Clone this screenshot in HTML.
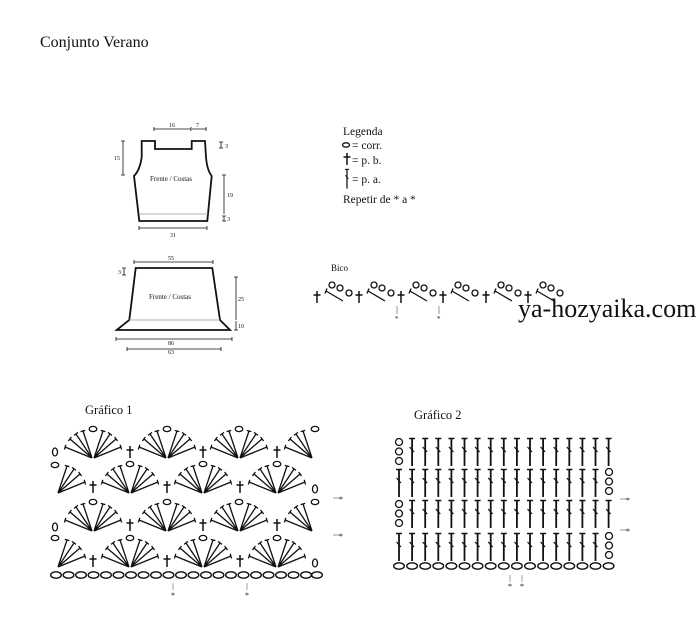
<!DOCTYPE html>
<html><head><meta charset="utf-8"><style>
body{margin:0;background:#fff}
svg{display:block}
text{font-family:"Liberation Serif",serif;fill:#111}
</style></head><body>
<svg width="700" height="620" viewBox="0 0 700 620" xmlns="http://www.w3.org/2000/svg">
<defs>
<g id="lh" stroke="#111" stroke-width="1.3" fill="none">
<path d="M0 0L-27 -11M0 0L-22 -19M0 0L-16 -24M0 0L-9 -27"/>
<path d="M-27.6 -8.5L-26.2 -13.2M-23.6 -17L-20.6 -21M-18 -22.6L-14 -25.6M-11.4 -26.4L-6.8 -27.6"/>
</g>
<g id="rh"><use href="#lh" transform="scale(-1,1)"/></g>
<g id="fan"><use href="#lh" transform="translate(-1,0)"/><use href="#rh" transform="translate(1,0)"/><ellipse cx="0" cy="-29" rx="3.8" ry="2.6" fill="none" stroke="#111" stroke-width="1.3"/></g>
<g id="pb" stroke="#111" stroke-width="1.5"><path d="M0 -12V0M-3.5 -8H3.5"/></g>
<g id="dc" stroke="#111" fill="none"><path d="M0 0V28" stroke-width="1.8"/><path d="M-3 0.5H3" stroke-width="1.5"/><path d="M-2.5 9L2 14" stroke-width="1.2"/></g>
<ellipse id="ch" cx="0" cy="0" rx="5.3" ry="3.2" fill="none" stroke="#111" stroke-width="1.4"/>
<g id="c3" fill="none" stroke="#111" stroke-width="1.3"><circle cx="0" cy="4" r="3.5"/><circle cx="0" cy="13.5" r="3.5"/><circle cx="0" cy="23" r="3.5"/></g>
<g id="bico"><use href="#pb" transform="translate(0,303)"/><g fill="none" stroke="#111" stroke-width="1.3"><path d="M9 291L26 301M8 293.5L10 288.5"/><circle cx="15" cy="285" r="3"/><circle cx="23" cy="288" r="3"/><circle cx="32" cy="293" r="3"/></g></g>
<g id="dcrow"><use href="#dc" x="412.1"/><use href="#dc" x="425.2"/><use href="#dc" x="438.3"/><use href="#dc" x="451.4"/><use href="#dc" x="464.5"/><use href="#dc" x="477.6"/><use href="#dc" x="490.7"/><use href="#dc" x="503.8"/><use href="#dc" x="516.9"/><use href="#dc" x="530"/><use href="#dc" x="543.1"/><use href="#dc" x="556.2"/><use href="#dc" x="569.3"/><use href="#dc" x="582.4"/><use href="#dc" x="595.5"/></g>
</defs>

<text x="40" y="47" font-size="16">Conjunto Verano</text>

<!-- top piece -->
<g stroke="#111" fill="none">
<path d="M141.7 141H155V149H191.7V141H205L206 157Q207 170 211.7 176L207.3 221H139.3L134 176Q140 170 141.7 157Z" stroke-width="1.8"/>
<path d="M140 214H208" stroke="#999" stroke-width="0.8"/>
<g stroke-width="0.8"><path d="M154 129H191M154 127V131M191 127V131M192 129H206M206 127V131"/>
<path d="M123 141V175M121 141H125M121 175H125"/>
<path d="M221 142V148M219 142H223M219 148H223"/>
<path d="M224 175V214M222 175H226M224 216V221M222 216H226M222 221H226"/>
<path d="M139 228H207M139 226V230M207 226V230"/></g>
<path d="M135.7 268H212.3L220 320L230 330H116.7L129.3 320Z" stroke-width="1.8"/>
<path d="M129 320H220" stroke="#999" stroke-width="0.8"/>
<g stroke-width="0.8"><path d="M134 262H213M134 260V264M213 260V264"/>
<path d="M124 268V275M122 268H126M122 275H126"/>
<path d="M236 277V320M234 277H238M236 321V330M234 330H238"/>
<path d="M116 339H232M116 337V341M232 337V341"/>
<path d="M127 349H221M127 347V351M221 347V351"/></g>
</g>
<g font-size="6">
<text x="169" y="127">16</text><text x="196" y="127">7</text>
<text x="114" y="160">15</text><text x="225" y="148">3</text>
<text x="227" y="197">19</text><text x="227" y="221">3</text>
<text x="170" y="237">31</text>
<text x="168" y="260">55</text><text x="118" y="274">3</text>
<text x="238" y="301">25</text><text x="238" y="328">10</text>
<text x="168" y="345">86</text><text x="168" y="354">63</text>
</g>
<text x="150" y="181" font-size="7">Frente / Costas</text>
<text x="149" y="299" font-size="7">Frente / Costas</text>

<!-- legend -->
<g font-size="11.5">
<text x="343" y="135">Legenda</text>
<text x="352" y="149">= corr.</text>
<text x="352" y="164">= p. b.</text>
<text x="352" y="183">= p. a.</text>
<text x="343" y="203">Repetir de * a *</text>
</g>
<ellipse cx="346" cy="145" rx="3.5" ry="2.2" fill="none" stroke="#111" stroke-width="1.3"/>
<use href="#pb" transform="translate(347,165)"/>
<use href="#dc" transform="translate(347,169) scale(0.7)"/>

<!-- bico -->
<text x="331" y="271" font-size="9">Bico</text>
<use href="#bico" transform="translate(317,0)"/>
<use href="#bico" transform="translate(359,0)"/>
<use href="#bico" transform="translate(401,0)"/>
<use href="#bico" transform="translate(443,0)"/>
<use href="#bico" transform="translate(486,0)"/>
<use href="#bico" transform="translate(528,0)"/>
<g stroke="#666" stroke-width="0.7"><path d="M397 306V314M439 306V314"/></g>
<text x="395" y="321" font-size="7">*</text><text x="437" y="321" font-size="7">*</text>
<text x="518" y="317" font-size="26" fill="#222">ya-hozyaika.com</text>

<!-- grafico 1 -->
<text x="85" y="414" font-size="12.5">Gráfico 1</text>
<use href="#fan" transform="translate(93,458)"/><use href="#fan" transform="translate(167,458)"/><use href="#fan" transform="translate(239,458)"/><use href="#lh" transform="translate(312,458)"/>
<ellipse cx="315" cy="429" rx="3.8" ry="2.6" fill="none" stroke="#111" stroke-width="1.3"/>
<use href="#pb" transform="translate(130,458)"/><use href="#pb" transform="translate(203,458)"/><use href="#pb" transform="translate(277,458)"/>
<use href="#fan" transform="translate(130,493)"/><use href="#fan" transform="translate(203,493)"/><use href="#fan" transform="translate(277,493)"/><use href="#rh" transform="translate(58,493)"/>
<use href="#pb" transform="translate(93,493)"/><use href="#pb" transform="translate(167,493)"/><use href="#pb" transform="translate(240,493)"/>
<use href="#fan" transform="translate(93,531)"/><use href="#fan" transform="translate(167,531)"/><use href="#fan" transform="translate(239,531)"/><use href="#lh" transform="translate(312,531)"/>
<ellipse cx="315" cy="502" rx="3.8" ry="2.6" fill="none" stroke="#111" stroke-width="1.3"/>
<use href="#pb" transform="translate(130,531)"/><use href="#pb" transform="translate(203,531)"/><use href="#pb" transform="translate(277,531)"/>
<use href="#fan" transform="translate(130,567)"/><use href="#fan" transform="translate(203,567)"/><use href="#fan" transform="translate(277,567)"/><use href="#rh" transform="translate(58,567)"/>
<use href="#pb" transform="translate(93,567)"/><use href="#pb" transform="translate(167,567)"/><use href="#pb" transform="translate(240,567)"/>
<g fill="none" stroke="#111" stroke-width="1.3">
<ellipse cx="55" cy="452" rx="2.5" ry="4"/><ellipse cx="55" cy="465" rx="3.8" ry="2.6"/>
<ellipse cx="315" cy="489" rx="2.5" ry="4"/>
<ellipse cx="55" cy="527" rx="2.5" ry="4"/><ellipse cx="55" cy="538" rx="3.8" ry="2.6"/>
<ellipse cx="315" cy="563" rx="2.5" ry="4"/>
</g>
<g>
<use href="#ch" x="56" y="575"/><use href="#ch" x="68.5" y="575"/><use href="#ch" x="81" y="575"/><use href="#ch" x="93.5" y="575"/><use href="#ch" x="106" y="575"/><use href="#ch" x="118.5" y="575"/><use href="#ch" x="131" y="575"/><use href="#ch" x="143.5" y="575"/><use href="#ch" x="156" y="575"/><use href="#ch" x="168.5" y="575"/><use href="#ch" x="181" y="575"/><use href="#ch" x="193.5" y="575"/><use href="#ch" x="206" y="575"/><use href="#ch" x="218.5" y="575"/><use href="#ch" x="231" y="575"/><use href="#ch" x="243.5" y="575"/><use href="#ch" x="256" y="575"/><use href="#ch" x="268.5" y="575"/><use href="#ch" x="281" y="575"/><use href="#ch" x="293.5" y="575"/><use href="#ch" x="306" y="575"/><use href="#ch" x="317" y="575"/>
</g>
<g stroke="#777" stroke-width="0.7"><path d="M333 498H340M333 535H340M173 583V590M247 583V590"/></g>
<g font-size="8"><text x="339" y="502">*</text><text x="339" y="539">*</text><text x="171" y="598">*</text><text x="245" y="598">*</text></g>

<!-- grafico 2 -->
<text x="414" y="419" font-size="12.5">Gráfico 2</text>
<use href="#c3" transform="translate(399,438)"/>
<use href="#c3" transform="translate(609,468)"/>
<use href="#c3" transform="translate(399,500)"/>
<use href="#c3" transform="translate(609,532)"/>
<use href="#dcrow" y="438"/><use href="#dc" x="608.6" y="438"/>
<use href="#dcrow" y="469"/><use href="#dc" x="399" y="469"/>
<use href="#dcrow" y="500"/><use href="#dc" x="608.6" y="500"/>
<use href="#dcrow" y="533"/><use href="#dc" x="399" y="533"/>
<g>
<use href="#ch" x="399" y="566"/><use href="#ch" x="412.1" y="566"/><use href="#ch" x="425.2" y="566"/><use href="#ch" x="438.3" y="566"/><use href="#ch" x="451.4" y="566"/><use href="#ch" x="464.5" y="566"/><use href="#ch" x="477.6" y="566"/><use href="#ch" x="490.7" y="566"/><use href="#ch" x="503.8" y="566"/><use href="#ch" x="516.9" y="566"/><use href="#ch" x="530" y="566"/><use href="#ch" x="543.1" y="566"/><use href="#ch" x="556.2" y="566"/><use href="#ch" x="569.3" y="566"/><use href="#ch" x="582.4" y="566"/><use href="#ch" x="595.5" y="566"/><use href="#ch" x="608.6" y="566"/>
</g>
<g stroke="#777" stroke-width="0.7"><path d="M620 499H627M620 530H627M510 575V582M522 575V582"/></g>
<g font-size="8"><text x="626" y="503">*</text><text x="626" y="534">*</text><text x="508" y="589">*</text><text x="520" y="589">*</text></g>
</svg>
</body></html>
